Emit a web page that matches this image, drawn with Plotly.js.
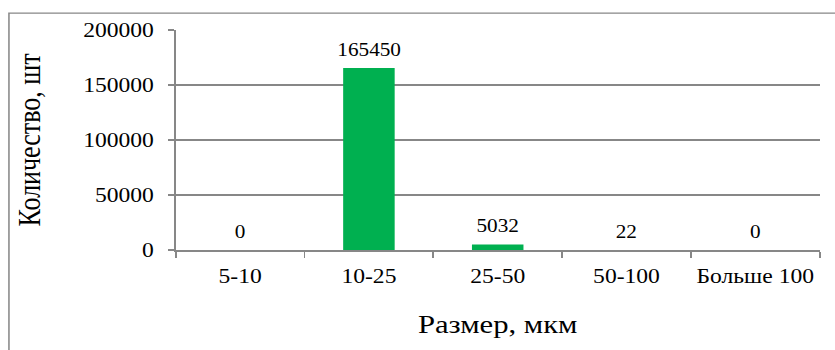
<!DOCTYPE html>
<html>
<head>
<meta charset="utf-8">
<script src="https://cdn.plot.ly/plotly-3.0.1.min.js"></script>
<style>
  html, body { margin: 0; padding: 0; background: #ffffff; }
  #wrap { position: relative; width: 835px; height: 350px; overflow: hidden; }
  #chart { position: absolute; left: 0; top: 0; width: 708px; height: 350px;
           transform: scaleX(1.1794); transform-origin: 0 0; }
</style>
</head>
<body>
<div id="wrap"><div id="chart"></div></div>
<script>
// Particle size distribution: number of particles per size range
const sizeRanges = ['5-10', '10-25', '25-50', '50-100', 'Больше 100'];
const particleCounts = [0, 165450, 5032, 22, 0];
const yTickValues = [0, 50000, 100000, 150000, 200000];
const yTickLabels = ['0', '50000', '100000', '150000', '200000'];

const serif = '"Liberation Serif", "Times New Roman", serif';
const axisGray = '#878787';

const barTrace = {
  type: 'bar',
  x: sizeRanges,
  y: particleCounts,
  marker: { color: '#00B050', line: { width: 0 } },
  hoverinfo: 'none',
  showlegend: false
};

// value labels above each bar
const valueLabels = sizeRanges.map((cat, i) => ({
  x: cat,
  y: particleCounts[i],
  xref: 'x',
  yref: 'y',
  text: String(particleCounts[i]),
  showarrow: false,
  yanchor: 'bottom',
  yshift: 6,
  font: { family: serif, size: 18, color: '#000000' }
}));

const layout = {
  width: 708,
  height: 350,
  margin: { l: 149, r: 13, t: 30, b: 100 },
  paper_bgcolor: '#ffffff',
  plot_bgcolor: '#ffffff',
  bargap: 0.6,
  font: { family: serif, color: '#000000' },
  xaxis: {
    type: 'category',
    tickson: 'boundaries',
    ticks: 'outside',
    ticklen: 6,
    tickwidth: 1.5,
    tickcolor: axisGray,
    showline: true,
    linecolor: axisGray,
    linewidth: 1.5,
    showgrid: false,
    zeroline: false,
    tickfont: { family: serif, size: 20, color: '#000000' },
    ticklabelstandoff: 8,
    title: { text: 'Размер, мкм', font: { family: serif, size: 26, color: '#000000' }, standoff: 28 }
  },
  yaxis: {
    range: [0, 200000],
    tickvals: yTickValues,
    ticktext: yTickLabels,
    ticks: 'outside',
    ticklen: 5,
    tickwidth: 1.5,
    tickcolor: axisGray,
    showline: true,
    linecolor: axisGray,
    linewidth: 1.5,
    showgrid: true,
    gridcolor: axisGray,
    gridwidth: 1.5,
    zeroline: false,
    tickfont: { family: serif, size: 20, color: '#000000' },
    ticklabelstandoff: 8,
    title: { text: 'Количество, шт', font: { family: serif, size: 26, color: '#000000' }, standoff: 28 }
  },
  annotations: valueLabels,
  shapes: [{
    type: 'rect',
    xref: 'paper', yref: 'paper',
    x0: -0.259, x1: 1.1, y0: -0.6, y1: 1.077,
    line: { color: axisGray, width: 1.3 },
    fillcolor: 'rgba(0,0,0,0)',
    layer: 'below'
  }]
};

Plotly.newPlot('chart', [barTrace], layout, { displayModeBar: false, staticPlot: true });
</script>
</body>
</html>
